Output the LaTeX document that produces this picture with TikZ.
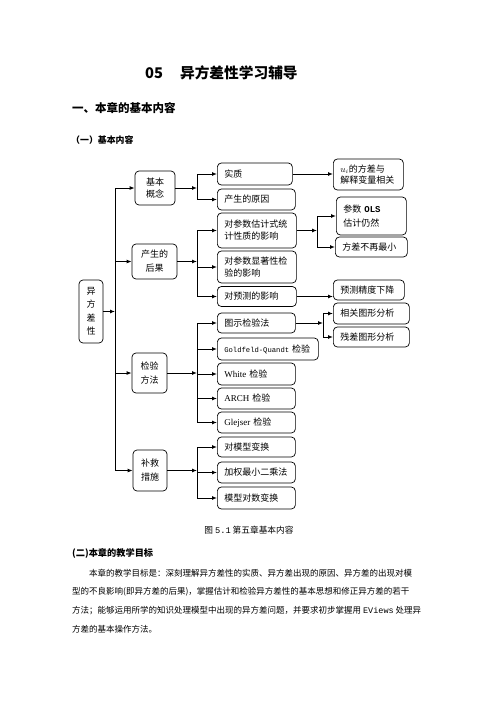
\documentclass[tikz,border=0pt]{standalone}
\usepackage{fontspec}
\setmainfont{Noto Sans CJK SC}
\newfontfamily\serif{Liberation Serif}
\newfontfamily\mono{Liberation Mono}
\usetikzlibrary{arrows.meta,positioning}

\begin{document}
\begin{tikzpicture}[
        x=1pt, y=-1pt,
        font=\fontsize{9}{12}\selectfont,
        grp/.style={draw, line width=0.7pt, rounded corners=4pt, align=center, inner sep=2pt},
        item/.style={draw, line width=0.7pt, rounded corners=4pt, anchor=west, text width=#1, align=left, inner xsep=7pt, inner ysep=0pt},
        arrow/.style={-{Latex[length=5pt,width=4pt]}, line width=1pt},
        txt/.style={anchor=west, inner sep=0pt},
    ]
        \useasboundingbox (0,0) rectangle (496,702);

        % page headings
        \node[txt, font=\fontsize{14.7}{16}\selectfont\bfseries] (title) at (145,73) {05\hspace{17pt}异方差性学习辅导};
        \node[txt, font=\fontsize{11.5}{13}\selectfont\bfseries] (sec) at (72,108) {一、本章的基本内容};
        \node[txt, font=\fontsize{8.9}{10}\selectfont\bfseries] (sub) at (71,140) {（一）基本内容};

        % tree
        \node[grp, minimum width=24pt, minimum height=63pt, font=\fontsize{9}{13.5}\selectfont] (root) at (91,311.5) {异\\方\\差\\性};
        \node[grp, minimum width=40pt, minimum height=34pt] (basic) at (155,188) {基本\\概念};
        \node[grp, minimum width=45pt, minimum height=35pt, font=\fontsize{9}{14}\selectfont] (cons) at (154.5,261.5) {产生的\\后果};
        \node[grp, minimum width=35pt, minimum height=40pt, font=\fontsize{9}{14}\selectfont] (test) at (149.5,373) {检验\\方法};
        \node[grp, minimum width=34pt, minimum height=41pt, font=\fontsize{9}{14}\selectfont] (fix) at (150,470.5) {补救\\措施};

        \node[item=61pt, minimum height=22pt] (nature) at (217,174) {实质};
        \node[item=64pt, minimum height=21pt] (cause) at (217,199.5) {产生的原因};
        \node[item=65pt, minimum height=35pt] (estim) at (217,230.5) {对参数估计式统\\计性质的影响};
        \node[item=65pt, minimum height=32pt] (signif) at (217,267) {对参数显著性检\\验的影响};
        \node[item=65pt, minimum height=20pt] (pred) at (217,296.5) {对预测的影响};
        \node[item=64pt, minimum height=20pt] (graph) at (217,323) {图示检验法};
        \node[item=87pt, minimum height=22pt] (gq) at (217,349) {{\mono\fontsize{7.2}{9}\selectfont Goldfeld-Quandt} 检验};
        \node[item=64pt, minimum height=22pt] (white) at (217,374) {{\serif White} 检验};
        \node[item=64pt, minimum height=21pt] (arch) at (217,398.5) {{\serif ARCH} 检验};
        \node[item=64pt, minimum height=21pt] (glejser) at (217,422.5) {{\serif Glejser} 检验};
        \node[item=64pt, minimum height=20pt] (trans) at (217,447) {对模型变换};
        \node[item=64pt, minimum height=21pt] (wls) at (217,472.5) {加权最小二乘法};
        \node[item=64pt, minimum height=22pt] (logt) at (217,498) {模型对数变换};

        \node[item=56pt, minimum height=31pt, font=\fontsize{9}{10.5}\selectfont] (corr) at (333,174.5) {$u_i$的方差与\\解释变量相关};
        \node[item=56pt, minimum height=38pt, font=\fontsize{9}{14}\selectfont] (unbias) at (336,216) {参数 {\mono\bfseries OLS}\\估计仍然};
        \node[item=58pt, minimum height=20pt] (notmin) at (335,247) {方差不再最小};
        \node[item=57pt, minimum height=20pt] (prec) at (333,290) {预测精度下降};
        \node[item=62pt, minimum height=21pt] (rgraph) at (333,313.5) {相关图形分析};
        \node[item=62pt, minimum height=20pt] (egraph) at (333,337) {残差图形分析};

        % junctions
        \coordinate (trunk) at (115,0);
        \coordinate (jmid) at (197,0);
        \coordinate (jest) at (317,0);
        \coordinate (jgra) at (323,0);

        \draw[arrow] (root) -- (root -| trunk);
        \foreach \g in {basic,cons,test,fix}
            \draw[arrow] (root -| trunk) |- (\g);

        \foreach \g/\kids in {basic/{nature,cause}, cons/{estim,signif,pred}, test/{graph,gq,white,arch,glejser}, fix/{trans,wls,logt}} {
            \draw[arrow] (\g) -- (\g -| jmid);
            \foreach \k in \kids
                \draw[arrow] (\g -| jmid) |- (\k);
        }

        \draw[arrow] (nature.east) -- (nature.east -| corr.west);
        \draw[arrow] (estim) -- (estim -| jest);
        \draw[arrow] (estim -| jest) |- (unbias);
        \draw[arrow] (estim -| jest) |- (notmin);
        \draw[arrow] (pred.east) -- (pred.east -| prec.west);
        \draw[arrow] (graph) -- (graph -| jgra);
        \draw[arrow] (graph -| jgra) |- (rgraph);
        \draw[arrow] (graph -| jgra) |- (egraph);

        % caption and text
        \node[font=\fontsize{8.7}{10}\selectfont, inner sep=0pt] (cap) at (249,530) {图 {\mono 5.1} 第五章基本内容};
        \node[txt, font=\fontsize{9.2}{10}\selectfont\bfseries] (goal) at (72,553) {(二)本章的教学目标};
        \begin{scope}[every node/.style={txt, font=\fontsize{8.5}{10}\selectfont}]
            \node (line1) at (89,573) {本章的教学目标是：深刻理解异方差性的实质、异方差出现的原因、异方差的出现对模};
            \node (line2) at (72,592) {型的不良影响(即异方差的后果)，掌握估计和检验异方差性的基本思想和修正异方差的若干};
            \node (line3) at (72,611) {方法；能够运用所学的知识处理模型中出现的异方差问题，并要求初步掌握用 {\mono EViews} 处理异};
            \node (line4) at (72,629) {方差的基本操作方法。};
        \end{scope}
\end{tikzpicture}
\end{document}
